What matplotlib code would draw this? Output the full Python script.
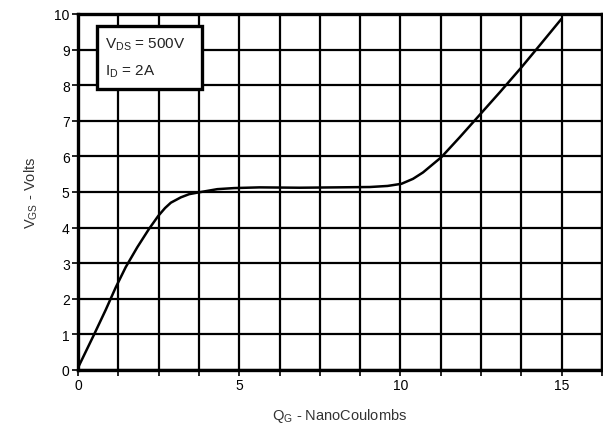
import matplotlib
matplotlib.use("Agg")
import matplotlib.pyplot as plt
from matplotlib.patches import Rectangle

# Data
qg = [0.0, 0.03, 0.5, 0.86, 1.17, 1.48, 1.84, 2.2, 2.49, 2.7, 2.88, 3.19, 3.45, 3.75,
      4.32, 4.84, 5.63, 6.87, 8.0, 9.05, 9.6, 10.03, 10.39, 10.7, 11.27, 11.84,
      12.46, 13.08, 13.75, 14.3, 14.99]
vgs = [0.05, 0.12, 1.0, 1.69, 2.32, 2.89, 3.45, 3.96, 4.33, 4.55, 4.7, 4.85, 4.94, 4.99,
       5.08, 5.11, 5.13, 5.12, 5.13, 5.14, 5.17, 5.23, 5.37, 5.55, 5.98, 6.54,
       7.17, 7.8, 8.5, 9.1, 9.86]

x_ticks = [0, 5, 10, 15]
x_grid = [1.25 * i for i in range(14)]
y_ticks = list(range(0, 11))

plt.rcParams['font.family'] = ['Liberation Sans', 'DejaVu Sans']

fig = plt.figure(figsize=(6.03, 4.31), dpi=100)
ax = fig.add_axes([78 / 603, 1 - 371 / 431, 524 / 603, (371 - 15) / 431])

ax.set_xlim(0, 16.25)
ax.set_ylim(0, 10)

for x in x_grid:
    ax.axvline(x, color='black', lw=1.6, zorder=1)
for y in y_ticks:
    ax.axhline(y, color='black', lw=1.6, zorder=1)

ax.plot(qg, vgs, color='black', lw=1.8, zorder=3, solid_capstyle='round',
        solid_joinstyle='round')

ax.set_xticks(x_grid)
ax.set_xticklabels([str(int(x)) if x in x_ticks else '' for x in x_grid])
ax.set_yticks(y_ticks)
ax.tick_params(axis='both', direction='out', length=4, width=1.2, labelsize=10, pad=2)

for s in ax.spines.values():
    s.set_linewidth(2.4)

ax.set_xlabel(r'Q$_\mathregular{G}$ - NanoCoulombs', fontsize=10.5, color='#333333', labelpad=10)
ax.set_ylabel(r'V$_\mathregular{GS}$ - Volts', fontsize=10.5, color='#333333', labelpad=10)

# Annotation box
ax.add_patch(Rectangle((0.58, 7.9), 3.25, 1.75, facecolor='white', edgecolor='black',
                       lw=2.4, zorder=5))
ax.text(0.85, 9.17, r'V$_\mathregular{DS}$ = 500V', fontsize=11, va='center', ha='left',
        color='#222222', zorder=6)
ax.text(0.85, 8.41, r'I$_\mathregular{D}$ = 2A', fontsize=11, va='center', ha='left',
        color='#222222', zorder=6)

fig.savefig('out.png', dpi=100)
